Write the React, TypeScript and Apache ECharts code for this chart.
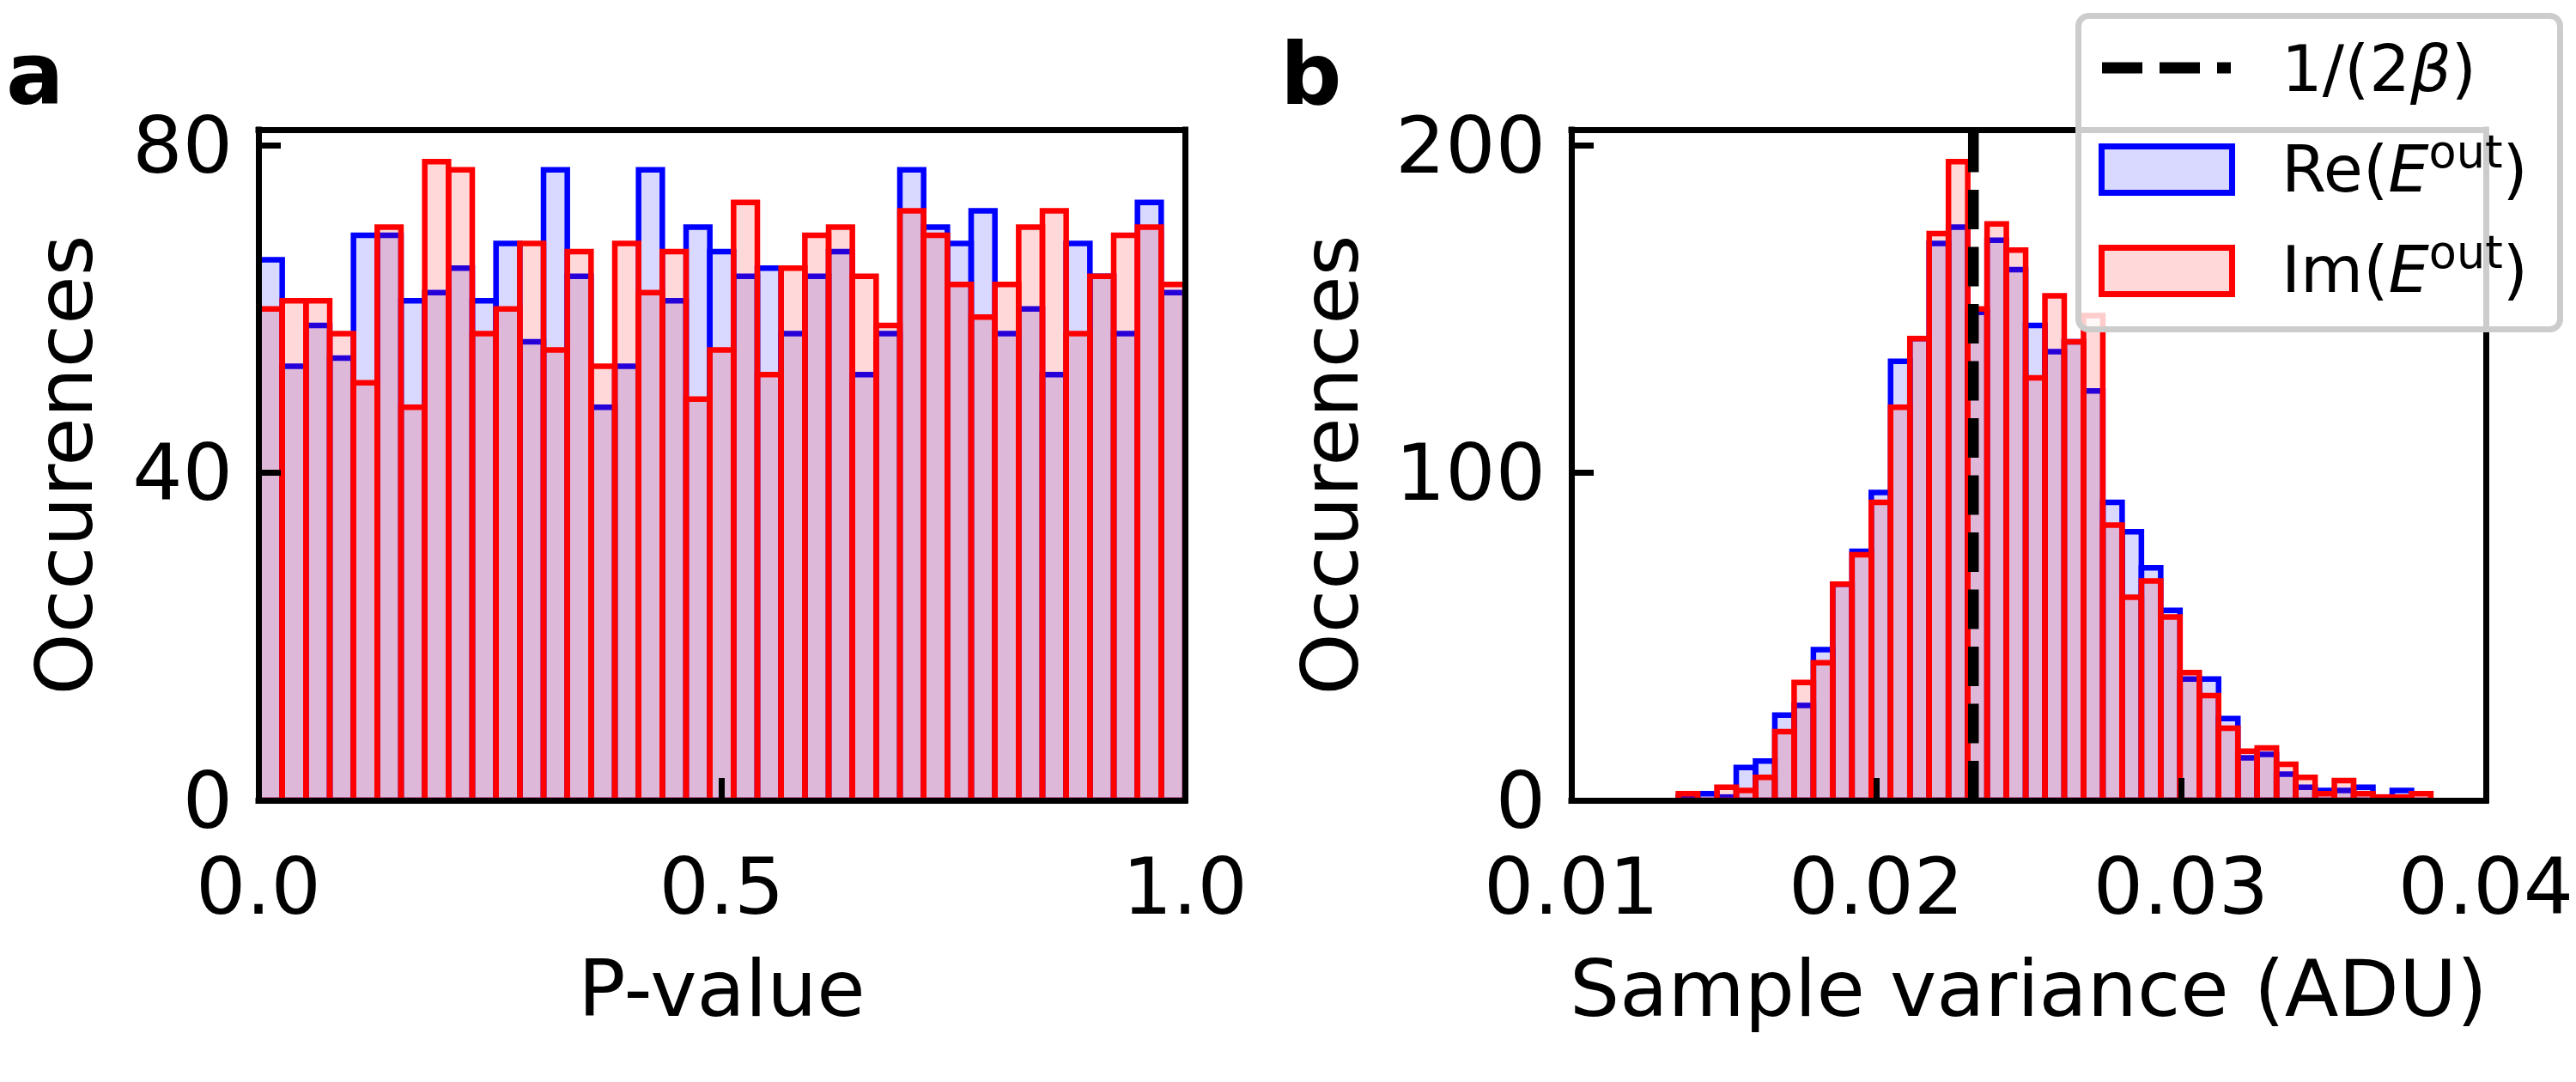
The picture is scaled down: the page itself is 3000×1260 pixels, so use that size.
import React, { useEffect, useRef } from "react";
import * as echarts from "echarts";

const FONT = "DejaVu Sans";

// ---- Panel a: P-value histogram, 39 equal bins on [0, 1] ----
const pValueRange = [0, 1];
const pValueBinCount = 39;
const pValueRe = [66, 53, 58, 54, 69, 69, 61, 62, 65, 61, 68, 56, 77, 64, 48, 53, 77, 61, 70, 67, 64, 65, 57, 64, 67, 52, 57, 77, 70, 68, 72, 57, 60, 52, 68, 64, 57, 73, 62];
const pValueIm = [60, 61, 61, 57, 51, 70, 48, 78, 77, 57, 60, 68, 55, 67, 53, 68, 62, 67, 49, 55, 73, 52, 65, 69, 70, 64, 58, 72, 69, 63, 59, 63, 70, 72, 57, 64, 69, 70, 63];

// ---- Panel b: sample variance histogram, 39 equal bins ----
const varianceFirstEdge = 0.01351;
const varianceBinWidth = 0.000633;
const varianceRe = [1, 2, 1, 10, 12, 26, 29, 46, 66, 76, 94, 134, 141, 170, 175, 149, 171, 162, 145, 137, 140, 125, 91, 82, 71, 58, 37, 37, 25, 13, 14, 8, 4, 3, 3, 4, 1, 3, 0];
const varianceIm = [2, 0, 4, 3, 7, 21, 36, 42, 66, 75, 91, 120, 141, 173, 195, 150, 176, 168, 129, 154, 140, 148, 84, 62, 67, 56, 39, 32, 22, 15, 16, 11, 7, 2, 6, 2, 1, 1, 2];
const inverseTwoBeta = 0.02319;

// ---- ticks ----
const pValueTicks = [0, 0.5, 1];
const pCountTicks = [0, 40, 80];
const varianceTicks = [0.01, 0.02, 0.03, 0.04];
const varianceCountTicks = [0, 100, 200];

const BLUE = "#0000ff";
const RED = "#ff0000";
const BLUE_FILL = "rgba(0,0,255,0.15)";
const RED_FILL = "rgba(255,0,0,0.15)";

const pEdge = (i: number) =>
  pValueRange[0] + ((pValueRange[1] - pValueRange[0]) * i) / pValueBinCount;
const vEdge = (i: number) => varianceFirstEdge + varianceBinWidth * i;

const toBins = (counts: number[], edge: (i: number) => number) =>
  counts.map((c, i) => [edge(i), edge(i + 1), c]);

const pCountMax = Math.max(...pValueRe, ...pValueIm) * 1.05;
const vCountMax = Math.max(...varianceRe, ...varianceIm) * 1.05;

const histRender = (fill: string, stroke: string) => (params: any, api: any) => {
  const x0 = api.value(0);
  const x1 = api.value(1);
  const c = api.value(2);
  const a = api.coord([x0, 0]);
  const b = api.coord([x1, c]);
  return {
    type: "rect",
    shape: { x: a[0], y: b[1], width: b[0] - a[0], height: a[1] - b[1] },
    style: { fill, stroke, lineWidth: 6.5 },
  };
};

const textBase = { fontFamily: FONT, color: "#000" };

function bottomAxis(grid: number, min: number, max: number, ticks: number[], digits: number, name: string) {
  return {
    type: "value",
    gridIndex: grid,
    position: "bottom",
    min,
    max,
    z: 10,
    axisLine: { show: true, onZero: false, lineStyle: { color: "#000", width: 7, cap: "square" } },
    axisTick: { show: true, inside: true, length: 26, customValues: ticks, lineStyle: { color: "#000", width: 7 } },
    axisLabel: {
      show: true,
      customValues: ticks,
      formatter: (v: number) => v.toFixed(digits),
      margin: 54,
      fontSize: 91.7,
      ...textBase,
    },
    splitLine: { show: false },
    name,
    nameLocation: "middle",
    nameGap: 173,
    nameTextStyle: { fontSize: 91.7, ...textBase },
  };
}

function frameAxis(grid: number, position: string, min: number, max: number) {
  return {
    type: "value",
    gridIndex: grid,
    position,
    min,
    max,
    z: 10,
    axisLine: { show: true, onZero: false, lineStyle: { color: "#000", width: 7, cap: "square" } },
    axisTick: { show: false },
    axisLabel: { show: false },
    splitLine: { show: false },
  };
}

function leftAxis(grid: number, max: number, ticks: number[], nameGap: number) {
  return {
    type: "value",
    gridIndex: grid,
    position: "left",
    min: 0,
    max,
    z: 10,
    axisLine: { show: true, onZero: false, lineStyle: { color: "#000", width: 7, cap: "square" } },
    axisTick: { show: true, inside: true, length: 26, customValues: ticks, lineStyle: { color: "#000", width: 7 } },
    axisLabel: {
      show: true,
      customValues: ticks,
      formatter: (v: number) => String(Math.round(v)),
      margin: 30,
      fontSize: 91.7,
      ...textBase,
    },
    splitLine: { show: false },
    name: "Occurences",
    nameLocation: "middle",
    nameGap,
    nameTextStyle: { fontSize: 91.7, ...textBase },
  };
}

const legendRich = {
  n: { fontSize: 75, fontFamily: FONT, fill: "#000", lineHeight: 95 },
  i: { fontSize: 75, fontFamily: FONT, fontStyle: "italic", fill: "#000", lineHeight: 95 },
  s: { fontSize: 52.5, fontFamily: FONT, fill: "#000", lineHeight: 52.5, verticalAlign: "top" },
};

const option: any = {
  animation: false,
  backgroundColor: "#ffffff",
  textStyle: { fontFamily: FONT, color: "#000" },
  grid: [
    { left: 301, top: 151, width: 1079, height: 781, show: false },
    { left: 1830, top: 151, width: 1081, height: 781, show: false },
  ],
  xAxis: [
    bottomAxis(0, pValueRange[0], pValueRange[1], pValueTicks, 1, "P-value"),
    bottomAxis(1, 0.01, 0.04, varianceTicks, 2, "Sample variance (ADU)"),
    frameAxis(0, "top", pValueRange[0], pValueRange[1]),
    frameAxis(1, "top", 0.01, 0.04),
  ],
  yAxis: [
    leftAxis(0, pCountMax, pCountTicks, 180),
    leftAxis(1, vCountMax, varianceCountTicks, 235),
    frameAxis(0, "right", 0, pCountMax),
    frameAxis(1, "right", 0, vCountMax),
  ],
  series: [
    {
      name: "Re a",
      type: "custom",
      xAxisIndex: 0,
      yAxisIndex: 0,
      renderItem: histRender(BLUE_FILL, BLUE),
      data: toBins(pValueRe, pEdge),
      encode: { x: [0, 1], y: 2 },
      clip: true,
      z: 2,
    },
    {
      name: "Im a",
      type: "custom",
      xAxisIndex: 0,
      yAxisIndex: 0,
      renderItem: histRender(RED_FILL, RED),
      data: toBins(pValueIm, pEdge),
      encode: { x: [0, 1], y: 2 },
      clip: true,
      z: 3,
    },
    {
      name: "Re b",
      type: "custom",
      xAxisIndex: 1,
      yAxisIndex: 1,
      renderItem: histRender(BLUE_FILL, BLUE),
      data: toBins(varianceRe, vEdge),
      encode: { x: [0, 1], y: 2 },
      clip: true,
      z: 2,
    },
    {
      name: "Im b",
      type: "custom",
      xAxisIndex: 1,
      yAxisIndex: 1,
      renderItem: histRender(RED_FILL, RED),
      data: toBins(varianceIm, vEdge),
      encode: { x: [0, 1], y: 2 },
      clip: true,
      z: 3,
    },
    {
      name: "1/(2β)",
      type: "line",
      xAxisIndex: 1,
      yAxisIndex: 1,
      data: [
        [inverseTwoBeta, 0],
        [inverseTwoBeta, vCountMax],
      ],
      symbol: "none",
      silent: true,
      lineStyle: { color: "#000", width: 12.5, type: [46, 20.5] },
      z: 4,
    },
  ],
  graphic: [
    {
      type: "text",
      x: 7,
      y: 86,
      z: 100,
      style: { text: "a", fontSize: 100, fontWeight: "bold", fontFamily: FONT, fill: "#000", verticalAlign: "middle", align: "left" },
    },
    {
      type: "text",
      x: 1491,
      y: 86,
      z: 100,
      style: { text: "b", fontSize: 100, fontWeight: "bold", fontFamily: FONT, fill: "#000", verticalAlign: "middle", align: "left" },
    },
    {
      type: "group",
      z: 100,
      children: [
        {
          type: "rect",
          z: 100,
          shape: { x: 2420.5, y: 18.5, width: 561, height: 365, r: 12 },
          style: { fill: "rgba(255,255,255,0.8)", stroke: "#cccccc", lineWidth: 7 },
        },
        {
          type: "line",
          z: 101,
          shape: { x1: 2448, y1: 79, x2: 2598, y2: 79 },
          style: { stroke: "#000", lineWidth: 13, lineDash: [47, 20] },
        },
        {
          type: "rect",
          z: 101,
          shape: { x: 2447.5, y: 170.5, width: 152, height: 54 },
          style: { fill: BLUE_FILL, stroke: BLUE, lineWidth: 7 },
        },
        {
          type: "rect",
          z: 101,
          shape: { x: 2447.5, y: 288.5, width: 152, height: 54 },
          style: { fill: RED_FILL, stroke: RED, lineWidth: 7 },
        },
        {
          type: "text",
          z: 101,
          x: 2657,
          y: 80,
          style: { text: "{n|1/(2}{i|β}{n|)}", rich: legendRich, verticalAlign: "middle", align: "left" },
        },
        {
          type: "text",
          z: 101,
          x: 2657,
          y: 197,
          style: { text: "{n|Re(}{i|E}{s|out}{n|)}", rich: legendRich, verticalAlign: "middle", align: "left" },
        },
        {
          type: "text",
          z: 101,
          x: 2657,
          y: 314,
          style: { text: "{n|Im(}{i|E}{s|out}{n|)}", rich: legendRich, verticalAlign: "middle", align: "left" },
        },
      ],
    },
  ],
};

export default function App() {
  const ref = useRef<HTMLDivElement>(null);
  useEffect(() => {
    const chart = echarts.init(ref.current as HTMLDivElement, null, { renderer: "svg" });
    chart.setOption(option);
    return () => chart.dispose();
  }, []);
  return (
    <div
      ref={ref}
      style={{ position: "absolute", left: 0, top: 0, width: 3000, height: 1260, background: "#ffffff" }}
    />
  );
}
